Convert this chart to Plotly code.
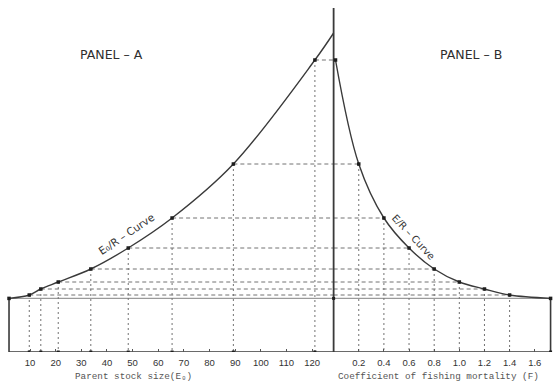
import plotly.graph_objects as go

# ---- data (E/R in arbitrary units) ----
# Panel B: E/R curve against fishing mortality F
curveB_F = [0.015, 0.2, 0.4, 0.6, 0.8, 1.0, 1.2, 1.4, 1.726]
curveB_ER = [1.46, 0.94, 0.67, 0.52, 0.415, 0.35, 0.315, 0.285, 0.268]
# Panel A: E0/R curve against parent stock size E0
curveA_E = [1.8, 9.7, 14.2, 21.0, 33.7, 48.3, 65.4, 89.3, 121.1, 128.4]
curveA_ER = [0.268, 0.285, 0.315, 0.35, 0.415, 0.52, 0.67, 0.94, 1.46, 1.595]

# projection lines (F value -> E/R level -> E value)
proj_F = [0.015, 0.2, 0.4, 0.6, 0.8, 1.0, 1.2, 1.4]
proj_ER = [1.46, 0.94, 0.67, 0.52, 0.415, 0.35, 0.315, 0.285]
proj_E = [121.1, 89.3, 65.4, 48.3, 33.7, 21.0, 14.2, 9.7]

E_ticks = [10, 20, 30, 40, 50, 60, 70, 80, 90, 100, 110, 120]
F_ticks = [0.2, 0.4, 0.6, 0.8, 1.0, 1.2, 1.4, 1.6]
F_ticktext = ["0.2", "0.4", "0.6", "0.8", "1.0", "1.2", "1.4", "1.6"]

ER_floor = 0.268
E_min, E_max = 1.8, 128.4
F_max = 1.726
ER_top = 1.72

# ---- layout geometry ----
W, H = 554, 390
MB = 38
plot_h = H - MB
E0_px, E_scale = 4.4, 2.564          # px of E=0 and px per unit E
F0_px = E0_px + E_scale * E_max        # F=0 sits on the central line
F_scale = 125.7
E_range = [-E0_px / E_scale, (W - E0_px) / E_scale]
F_range = [-F0_px / F_scale, (W - F0_px) / F_scale]
Y_range = [0, plot_h / 200.0]

DARK = "#3a3a3a"
DASH = "#727272"
fig = go.Figure()

def seg_lists(xs, ys_from, ys_to=None, xs_to=None):
    X, Y = [], []
    for i, x in enumerate(xs):
        x2 = xs_to[i] if xs_to is not None else x
        y1 = ys_from[i]
        y2 = ys_to[i] if ys_to is not None else 0
        X += [x, x2, None]
        Y += [y1, y2, None]
    return X, Y

# floor (grey) line
fig.add_trace(go.Scatter(x=[E_min, E_max], y=[ER_floor, ER_floor], mode="lines",
                         line=dict(color="#9a9a9a", width=1.3), xaxis="x", yaxis="y"))
fig.add_trace(go.Scatter(x=[0, F_max], y=[ER_floor, ER_floor], mode="lines",
                         line=dict(color="#9a9a9a", width=1.3), xaxis="x2", yaxis="y"))

# vertical dotted projections, panel A
X, Y = seg_lists(proj_E, proj_ER)
fig.add_trace(go.Scatter(x=X, y=Y, mode="lines", line=dict(color=DASH, width=1, dash="2px,3px"),
                         xaxis="x", yaxis="y"))
# vertical dotted projections, panel B
X, Y = seg_lists(proj_F[1:], proj_ER[1:])
fig.add_trace(go.Scatter(x=X, y=Y, mode="lines", line=dict(color=DASH, width=1, dash="2px,3px"),
                         xaxis="x2", yaxis="y"))
# horizontal dashed projections
X, Y = seg_lists(proj_E, proj_ER, proj_ER, [E_max] * len(proj_E))
fig.add_trace(go.Scatter(x=X, y=Y, mode="lines", line=dict(color=DASH, width=1, dash="4px,3px"),
                         xaxis="x", yaxis="y"))
X, Y = seg_lists([0] * len(proj_F), proj_ER, proj_ER, proj_F)
fig.add_trace(go.Scatter(x=X, y=Y, mode="lines", line=dict(color=DASH, width=1, dash="4px,3px"),
                         xaxis="x2", yaxis="y"))

# frame: left edge + base, base + right edge
fig.add_trace(go.Scatter(x=[E_min, E_min, E_max], y=[ER_floor, 0, 0], mode="lines",
                         line=dict(color=DARK, width=1.6), xaxis="x", yaxis="y"))
fig.add_trace(go.Scatter(x=[0, F_max, F_max], y=[0, 0, ER_floor], mode="lines",
                         line=dict(color=DARK, width=1.6), xaxis="x2", yaxis="y"))

# curves
fig.add_trace(go.Scatter(x=curveA_E, y=curveA_ER, mode="lines",
                         line=dict(color=DARK, width=1.4, shape="spline", smoothing=1.0),
                         xaxis="x", yaxis="y"))
fig.add_trace(go.Scatter(x=curveB_F, y=curveB_ER, mode="lines",
                         line=dict(color=DARK, width=1.4, shape="spline", smoothing=1.0),
                         xaxis="x2", yaxis="y"))

# central vertical line
fig.add_trace(go.Scatter(x=[0, 0], y=[0, ER_top], mode="lines",
                         line=dict(color=DARK, width=1.8), xaxis="x2", yaxis="y"))

# markers
mk = dict(color="#1e1e1e", size=3.5, symbol="square")
fig.add_trace(go.Scatter(x=proj_E + [E_min], y=proj_ER + [ER_floor], mode="markers", marker=mk,
                         xaxis="x", yaxis="y"))
fig.add_trace(go.Scatter(x=proj_F + [F_max], y=proj_ER + [ER_floor], mode="markers", marker=mk,
                         xaxis="x2", yaxis="y"))
fig.add_trace(go.Scatter(x=proj_E, y=[0] * len(proj_E), mode="markers",
                         marker=dict(color="#1e1e1e", size=3, symbol="square"), xaxis="x", yaxis="y"))
fig.add_trace(go.Scatter(x=[0, F_max], y=[ER_floor, 0], mode="markers",
                         marker=dict(color="#1e1e1e", size=3, symbol="square"), xaxis="x2", yaxis="y"))

tickfont = dict(family="Liberation Sans", size=9.5, color="#333333")
fig.update_layout(
    width=W, height=H,
    margin=dict(l=0, r=0, t=0, b=MB, pad=0),
    paper_bgcolor="white", plot_bgcolor="white",
    showlegend=False,
    xaxis=dict(range=E_range, tickvals=E_ticks, ticks="inside", ticklen=3, tickcolor="#555",
               tickfont=tickfont, ticklabelstandoff=3,
               showgrid=False, zeroline=False, showline=False, fixedrange=True),
    xaxis2=dict(range=F_range, tickvals=F_ticks, ticktext=F_ticktext, ticks="inside", ticklen=3,
                tickcolor="#555", tickfont=tickfont, ticklabelstandoff=3,
                showgrid=False, zeroline=False, showline=False,
                overlaying="x", anchor="y", side="bottom", fixedrange=True),
    yaxis=dict(range=Y_range, visible=False, fixedrange=True),
)

title_font = dict(family="DejaVu Sans", size=12.5, color="#2e2e2e")
mono = dict(family="Liberation Mono", size=9.3, color="#555555")
labelA_font = dict(family="DejaVu Sans", size=10.5, color="#333333")
labelB_font = dict(family="DejaVu Sans", size=10, color="#333333")
ann = [
    dict(text="PANEL – A", x=41.6, y=1.49, xref="x", yref="y", showarrow=False, font=title_font),
    dict(text="PANEL – B", x=1.096, y=1.49, xref="x2", yref="y", showarrow=False, font=title_font),
    dict(text="E₀/R – Curve", x=47.5, y=0.59, xref="x", yref="y", showarrow=False,
         textangle=-34, font=labelA_font),
    dict(text="E/R – Curve", x=0.64, y=0.575, xref="x2", yref="y", showarrow=False,
         textangle=47, font=labelB_font),
    dict(text="Parent stock size(E₀)", x=50.2, y=-0.091, xref="x", yref="paper",
         showarrow=False, font=mono),
    dict(text="Coefficient of fishing mortality (F)", x=0.835, y=-0.091, xref="x2", yref="paper",
         showarrow=False, font=mono),
]
fig.update_layout(annotations=ann)

fig.write_html("out.html")
